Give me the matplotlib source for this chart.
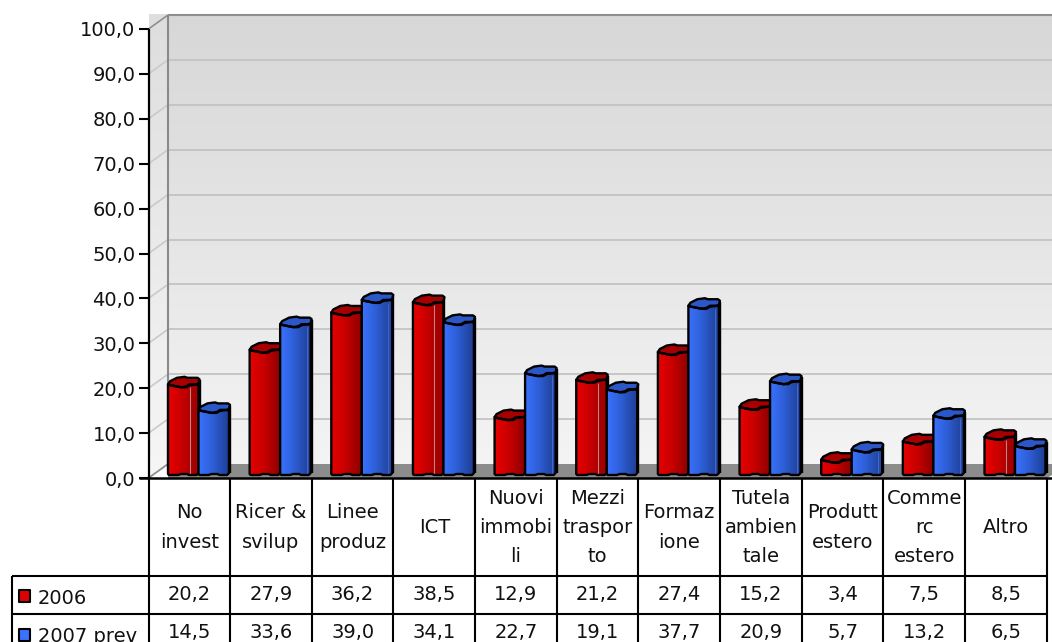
import numpy as np
import matplotlib
matplotlib.use("Agg")
import matplotlib.pyplot as plt
from matplotlib.patches import Polygon
from matplotlib.colors import LinearSegmentedColormap

categories = ["No\ninvest", "Ricer &\nsvilup", "Linee\nproduz", "ICT", "Nuovi\nimmobi\nli",
              "Mezzi\ntraspor\nto", "Formaz\nione", "Tutela\nambien\ntale", "Produtt\nestero",
              "Comme\nrc\nestero", "Altro"]
values_2006 = [20.2, 27.9, 36.2, 38.5, 12.9, 21.2, 27.4, 15.2, 3.4, 7.5, 8.5]
values_2007 = [14.5, 33.6, 39.0, 34.1, 22.7, 19.1, 37.7, 20.9, 5.7, 13.2, 6.5]
series_names = ["2006", "2007 prev"]
y_ticks = list(range(0, 101, 10))

W, H = 1052, 642
X0, Y0 = 148.5, 478.0          # pixel position of the chart origin
CAT = 81.65                    # pixels per category
UNIT = 4.49                    # pixels per value unit
DX, DY = 19.5, 14.0            # depth of the 3D box

fig = plt.figure(figsize=(W / 100, H / 100), dpi=100, facecolor="white")
ax = fig.add_axes([0, 0, 1, 1])
ax.set_xlim(-X0 / CAT, (W - X0) / CAT)
ax.set_ylim((Y0 - H) / UNIT, Y0 / UNIT)
ax.axis("off")


def px(x, y):
    """Convert figure pixels (y downward) to axis data coordinates."""
    return (np.asarray(x, float) - X0) / CAT, (Y0 - np.asarray(y, float)) / UNIT


def py(v):
    return Y0 - v * UNIT


def line(xs, ys, color, lw, z=3):
    dx, dy = px(xs, ys)
    ax.plot(dx, dy, color=color, lw=lw, solid_capstyle="butt", zorder=z)


def poly(xs, ys, fc, ec="none", lw=0, z=3):
    pts = np.column_stack(px(xs, ys))
    p = Polygon(pts, closed=True, fc=fc, ec=ec, lw=lw, zorder=z, joinstyle="round")
    ax.add_patch(p)
    return p


def gradient(x0, x1, y0, y1, cmap, horizontal, z, clip=None):
    grad = np.linspace(0, 1, 128)
    grad = grad[None, :] if horizontal else grad[:, None]
    a, b = px([x0, x1], [y1, y0])
    im = ax.imshow(grad, extent=(a[0], a[1], b[0], b[1]), origin="lower" if horizontal else "upper",
                   cmap=cmap, aspect="auto", zorder=z, interpolation="bilinear")
    if clip is not None:
        im.set_clip_path(clip)


# Walls
wall_cmap = LinearSegmentedColormap.from_list("wall", ["#d7d7d7", "#f4f4f4"])
side_cmap = LinearSegmentedColormap.from_list("side", ["#dedede", "#f6f6f6"])
right = W
gradient(X0 + DX, right, py(100) - DY, py(0) - DY, wall_cmap, False, 1)
gradient(X0, X0 + DX, py(100) - DY, py(0), side_cmap, False, 1)
poly([X0, X0 + DX, X0 + DX], [Y0, Y0 - DY, Y0], "white", z=1.5)

# Floor
poly([X0 + DX, right, right, right - 5, X0 + DX], [Y0 - DY, Y0 - DY, Y0 - 3, Y0, Y0], "#8c8c8c", z=1.6)

# Gridlines and depth lines
for t in y_ticks[1:]:
    shade = "#8f8f8f" if t == 100 else "#c0c0c0"
    line([X0 + DX, right], [py(t) - DY] * 2, shade, 1.2 if t < 100 else 1.5, 2)
    line([X0, X0 + DX], [py(t), py(t) - DY], "#8f8f8f" if t == 100 else "#cacaca", 1.2, 2)
line([X0, X0 + DX], [Y0, Y0 - DY], "#8f8f8f", 1.3, 2)
line([X0 + DX] * 2, [py(100) - DY, Y0 - DY], "#8a8a8a", 1.5, 2)

red_cmap = LinearSegmentedColormap.from_list("r", ["#e80000", "#c40000", "#8a0000"])
blue_cmap = LinearSegmentedColormap.from_list("b", ["#3a72ff", "#2c5cd0", "#1e3c90"])
TOPS = {"r": "#a80000", "b": "#2b57c8"}
SIDES = {"r": "#a40000", "b": "#2447a8"}
SIDE_LINES = {"r": "#c08080", "b": "#3f68c8"}
BAR_W = 30.5
DEPTH_Y = 5.0
EDGE = 1.7


def draw_bar(left, value, cmap, key, side_w, z):
    top = py(value) - 3
    bottom = Y0 - 3
    r = left + BAR_W

    # Front face with a slightly rippled rim along the top and bottom
    fx = [left, left + 1, left + 10, left + 13, left + 19, left + 21, r - 2, r, r, r - 2, r - 9, r - 12, r - 17, left + 8, left + 3, left]
    fy = [bottom - 1, bottom, bottom, bottom - 1, bottom - 1, bottom, bottom, bottom - 2,
          top + 1, top, top, top + 2, top + 3, top + 2, top + 1, top]
    # Bar cap seen from above
    top_x = [left, left + 3, left + 8, left + 13, left + 18, r - 9, r - 2, r, r + 1, r - 1, r - 11, r - 14, left + 9, left + 2]
    top_y = [top, top + 1, top + 2, top + 3, top + 3, top + 1, top, top - 1, top - DEPTH_Y,
             top - DEPTH_Y - 1.5, top - DEPTH_Y - 1.5, top - DEPTH_Y - 2.5, top - DEPTH_Y - 1.5, top - 3]

    clip = poly(fx, fy, "none", z=z)
    gradient(left, r, top - 1, bottom + 1, cmap, True, z, clip)
    if side_w > 0:
        poly([r - side_w, r + 1, r + 1, r - side_w], [top + 2, top - 2, bottom - 2, bottom], SIDES[key], z=z + 0.1)
        line([r - side_w] * 2, [top + 3, bottom], SIDE_LINES[key], 0.8, z + 0.15)
    poly(top_x, top_y, TOPS[key], z=z + 0.2)
    poly(fx, fy, "none", ec="black", lw=EDGE, z=z + 0.3)
    poly(top_x, top_y, "none", ec="black", lw=EDGE, z=z + 0.3)
    line([r + 1, r + 1], [top - DEPTH_Y + 1, bottom - 2], "black", EDGE, z + 0.3)


for i, (a, b) in enumerate(zip(values_2006, values_2007)):
    left = X0 + i * CAT + 19.5
    blue_shorter = b < a
    draw_bar(left, a, red_cmap, "r", 9 if blue_shorter else 0, 4 + i)
    draw_bar(left + 30.5, b, blue_cmap, "b", 0 if blue_shorter else 4, 4.5 + i)

# Value axis
line([X0, X0], [py(100), Y0], "black", 1.6, 30)
fs = 14.0
for t in y_ticks:
    line([X0 - 10, X0], [py(t)] * 2, "black", 1.5, 30)
    tx, ty = px(X0 - 13, py(t) + 2)
    ax.text(tx, ty, f"{t:.1f}".replace(".", ","), ha="right", va="center", fontsize=fs, color="#111111", zorder=30)

# Data table
TABLE_LEFT = 12
ROW_TOPS = [576, 614, 653]
cols = [X0 + i * CAT for i in range(len(categories) + 1)]
line([X0 - 10, cols[-1] + 5], [Y0, Y0], "black", 1.8, 30)
for c in cols:
    line([c, c], [Y0, H], "black", 1.5, 30)
line([TABLE_LEFT, TABLE_LEFT], [ROW_TOPS[0], H], "black", 1.5, 30)
for r in ROW_TOPS[:2]:
    line([TABLE_LEFT, cols[-1]], [r, r], "black", 1.5, 30)

for i, label in enumerate(categories):
    tx, _ = px(cols[i] + CAT / 2, 0)
    parts = label.split("\n")
    for k, part in enumerate(parts):
        _, ty = px(0, 527.5 + (k - (len(parts) - 1) / 2) * 29.5)
        ax.text(tx, ty, part, ha="center", va="center", fontsize=fs, color="#111111", zorder=31)
    for row, vals in enumerate((values_2006, values_2007)):
        _, ty = px(0, 595 + row * 38)
        ax.text(tx, ty, f"{vals[i]:.1f}".replace(".", ","), ha="center", va="center", fontsize=fs, color="#111111",
                zorder=31, clip_on=True)

# Legend keys inside the table's first column
for row, (name, col) in enumerate(zip(series_names, ("#e00000", "#3a72ff"))):
    y = 596 + row * 38.5
    poly([18.5, 30, 30, 18.5], [y - 6, y - 6, y + 6, y + 6], col, ec="black", lw=1.5, z=31)
    tx, ty = px(38, y + 2)
    ax.text(tx, ty, name, ha="left", va="center", fontsize=fs, color="#111111", zorder=31, clip_on=True)

ax.set_xlim(-X0 / CAT, (W - X0) / CAT)
ax.set_ylim((Y0 - H) / UNIT, Y0 / UNIT)
fig.savefig("out.png", dpi=100, facecolor="white")
